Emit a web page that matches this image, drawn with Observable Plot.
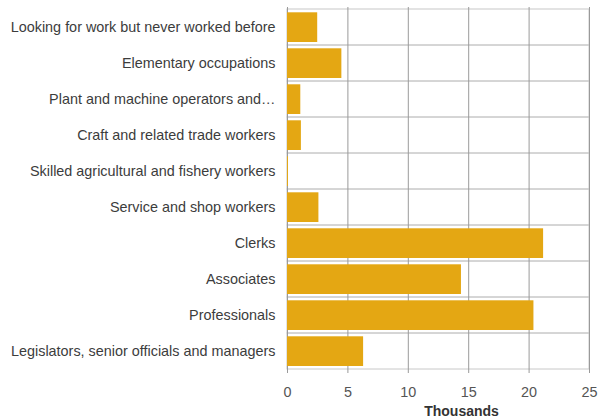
<!DOCTYPE html>
<html>
<head>
<meta charset="utf-8">
<script src="https://cdn.jsdelivr.net/npm/d3@7"></script>
<script src="https://cdn.jsdelivr.net/npm/@observablehq/plot@0.6"></script>
<style>
  html, body { margin: 0; padding: 0; background: #fff; }
  #chart svg { display: block; }
</style>
</head>
<body>
<div id="chart"></div>
<script>
const categories = [
  "Looking for work but never worked before",
  "Elementary occupations",
  "Plant and machine operators and\u2026",
  "Craft and related trade workers",
  "Skilled agricultural and fishery workers",
  "Service and shop workers",
  "Clerks",
  "Associates",
  "Professionals",
  "Legislators, senior officials and managers"
];
const values = [2.5, 4.5, 1.1, 1.15, 0.08, 2.6, 21.2, 14.4, 20.4, 6.3];
const xDomain = [0, 25];
const xTicks = [0, 5, 10, 15, 20, 25];
const xLabel = "Thousands";

const data = categories.map((c, i) => ({category: c, value: values[i]}));

const font = "'Liberation Sans', Arial, Helvetica, sans-serif";

const chart = Plot.plot({
  width: 599,
  height: 419,
  marginLeft: 287,
  marginRight: 10,
  marginTop: 7,
  marginBottom: 49,
  style: {fontFamily: font, fontSize: "14.4px", background: "#fff", color: "#444"},
  x: {domain: xDomain, ticks: xTicks},
  y: {domain: categories, padding: 0},
  marks: [
    Plot.barX(categories, {
      y: d => d, x1: () => xDomain[0], x2: () => xDomain[1],
      fill: "none", stroke: "#c8c8c8", strokeWidth: 1
    }),
    Plot.ruleX(xTicks, {x: d => d, stroke: "#9a9a9a", strokeWidth: 1}),
    Plot.barX(data, {
      y: "category", x: "value",
      fill: "#e4a713", insetTop: 3.3, insetBottom: 3
    }),
    Plot.axisX({
      ticks: xTicks, tickSize: 3, tickPadding: 13, stroke: "#9a9a9a",
      label: null, fill: "#555", fontSize: 14.4
    }),
    Plot.axisY({
      tickSize: 0, tickPadding: 12, label: null, fill: "#3c3c3c", fontSize: 14.4
    }),
    Plot.text([xLabel], {
      text: d => d, frameAnchor: "bottom", dx: 23, dy: 45,
      fontWeight: "bold", fontSize: 14, fill: "#333"
    })
  ]
});

document.getElementById("chart").appendChild(chart);
</script>
</body>
</html>
